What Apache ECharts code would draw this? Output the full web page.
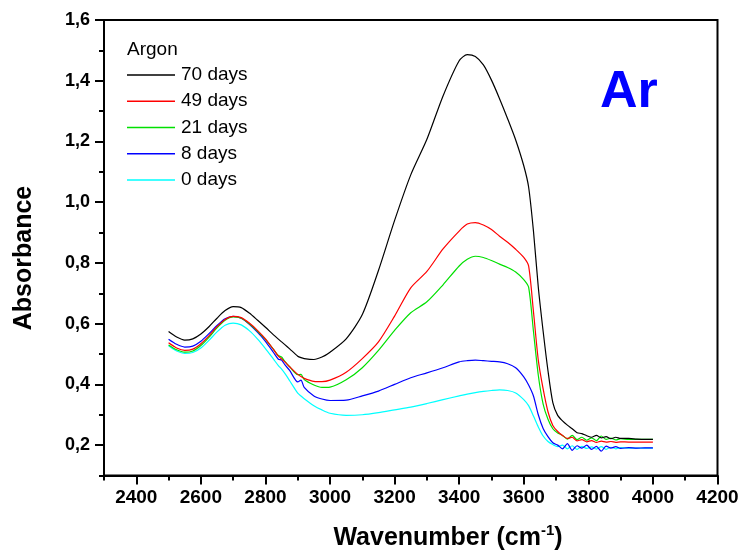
<!DOCTYPE html>
<html>
<head>
<meta charset="utf-8">
<script src="https://cdn.jsdelivr.net/npm/echarts@6/dist/echarts.min.js"></script>
<style>html,body{margin:0;padding:0;background:#fff}#c{width:745px;height:554px}</style>
</head>
<body>
<div id="c"></div>
<script>
const wavenumbers = [2500,2525,2550,2575,2600,2625,2650,2675,2700,2725,2750,2775,2800,2825,2840,2850,2860,2875,2900,2910,2920,2950,2975,3000,3050,3100,3150,3200,3250,3300,3350,3400,3425,3450,3475,3500,3525,3550,3575,3600,3615,3630,3645,3660,3675,3690,3705,3720,3735,3750,3765,3780,3795,3810,3825,3840,3855,3870,3885,3900,3925,3950,3975,4000];
const days70 = [0.574,0.556,0.546,0.550,0.566,0.590,0.618,0.643,0.656,0.653,0.635,0.612,0.588,0.563,0.549,0.540,0.531,0.517,0.493,0.488,0.485,0.482,0.490,0.506,0.550,0.630,0.775,0.940,1.090,1.207,1.350,1.466,1.486,1.480,1.452,1.402,1.341,1.275,1.205,1.120,1.050,0.905,0.720,0.575,0.445,0.340,0.298,0.280,0.266,0.254,0.241,0.238,0.231,0.226,0.232,0.224,0.228,0.221,0.226,0.222,0.222,0.220,0.219,0.219];
const days49 = [0.537,0.520,0.512,0.516,0.534,0.560,0.590,0.614,0.624,0.620,0.602,0.578,0.550,0.515,0.493,0.484,0.474,0.458,0.433,0.426,0.420,0.410,0.409,0.414,0.440,0.485,0.540,0.625,0.718,0.772,0.846,0.905,0.928,0.933,0.925,0.910,0.888,0.868,0.845,0.818,0.790,0.640,0.480,0.385,0.310,0.265,0.245,0.232,0.222,0.226,0.214,0.218,0.211,0.215,0.209,0.213,0.210,0.212,0.209,0.211,0.210,0.210,0.210,0.210];
const days21 = [0.530,0.514,0.506,0.510,0.528,0.555,0.586,0.611,0.622,0.618,0.600,0.576,0.548,0.515,0.495,0.490,0.476,0.458,0.432,0.433,0.416,0.398,0.390,0.391,0.415,0.455,0.512,0.578,0.636,0.672,0.728,0.790,0.812,0.822,0.818,0.808,0.796,0.785,0.770,0.745,0.720,0.575,0.430,0.335,0.285,0.254,0.240,0.232,0.220,0.232,0.218,0.226,0.216,0.224,0.215,0.230,0.219,0.223,0.217,0.221,0.219,0.219,0.219,0.219];
const days8 = [0.549,0.532,0.523,0.526,0.542,0.567,0.594,0.616,0.624,0.618,0.598,0.572,0.542,0.505,0.483,0.480,0.465,0.446,0.408,0.414,0.390,0.362,0.352,0.347,0.348,0.362,0.378,0.400,0.422,0.438,0.455,0.474,0.478,0.480,0.478,0.476,0.474,0.468,0.455,0.425,0.398,0.362,0.300,0.255,0.228,0.208,0.200,0.188,0.205,0.183,0.198,0.190,0.200,0.186,0.196,0.180,0.197,0.190,0.195,0.189,0.192,0.190,0.191,0.191];
const days0 = [0.527,0.510,0.502,0.505,0.520,0.545,0.573,0.595,0.602,0.596,0.577,0.550,0.518,0.483,0.462,0.450,0.436,0.412,0.371,0.362,0.353,0.330,0.316,0.305,0.298,0.300,0.307,0.316,0.325,0.337,0.350,0.362,0.368,0.373,0.377,0.380,0.382,0.380,0.372,0.350,0.330,0.296,0.260,0.230,0.212,0.202,0.195,0.200,0.188,0.198,0.186,0.196,0.189,0.194,0.187,0.195,0.186,0.193,0.188,0.192,0.190,0.190,0.190,0.190];
const seriesNames = ['70 days','49 days','21 days','8 days','0 days'];
const seriesColors = ['#000000','#ff0000','#00e000','#0000ff','#00ffff'];
const xMajorTicks = [2400,2600,2800,3000,3200,3400,3600,3800,4000,4200];
const xMinorTicks = [2300,2500,2700,2900,3100,3300,3500,3700,3900,4100];
const yMajorTicks = [0.2,0.4,0.6,0.8,1.0,1.2,1.4,1.6];
const yMinorTicks = [0.1,0.3,0.5,0.7,0.9,1.1,1.3,1.5];
const legendTitle = 'Argon';
const panelLabel = 'Ar';

const allValues = [days70, days49, days21, days8, days0];
const chart = echarts.init(document.getElementById('c'), null, {renderer: 'canvas'});
const FONT = 'Liberation Sans, Arial, sans-serif';
const grid = {left: 104, right: 27.5, top: 20, bottom: 78.5, show: true, borderColor: '#000', borderWidth: 2, backgroundColor: 'transparent'};
const axisLineStyle = {show: true, lineStyle: {color: '#000', width: 2}};
const xBase = {type: 'value', min: 2300, max: 4200, splitLine: {show: false}, axisLine: axisLineStyle, position: 'bottom'};
const yBase = {type: 'value', min: 0.1, max: 1.6, splitLine: {show: false}, axisLine: axisLineStyle, position: 'left'};
chart.setOption({
  animation: false,
  backgroundColor: '#fff',
  grid: grid,
  xAxis: [
    Object.assign({}, xBase, {
      axisTick: {show: true, length: 9, lineStyle: {color: '#000', width: 2}, customValues: xMajorTicks},
      axisLabel: {show: true, customValues: xMajorTicks, margin: 13, fontFamily: FONT, fontWeight: 'bold', fontSize: 19, color: '#000',
        formatter: v => String(Math.round(v))}
    }),
    Object.assign({}, xBase, {
      axisTick: {show: true, length: 5, lineStyle: {color: '#000', width: 2}, customValues: xMinorTicks},
      axisLabel: {show: false}
    })
  ],
  yAxis: [
    Object.assign({}, yBase, {
      axisTick: {show: true, length: 9, lineStyle: {color: '#000', width: 2}, customValues: yMajorTicks},
      axisLabel: {show: true, customValues: yMajorTicks, margin: 14, fontFamily: FONT, fontWeight: 'bold', fontSize: 18, color: '#000',
        formatter: v => Number(v).toFixed(1).replace('.', ',')}
    }),
    Object.assign({}, yBase, {
      axisTick: {show: true, length: 5, lineStyle: {color: '#000', width: 2}, customValues: yMinorTicks},
      axisLabel: {show: false}
    })
  ],
  legend: {
    orient: 'vertical', left: 127, top: 65.5, padding: 0,
    icon: 'rect', itemWidth: 48, itemHeight: 1.5, itemGap: 7.25,
    data: seriesNames,
    textStyle: {fontFamily: FONT, fontSize: 19, color: '#000', lineHeight: 19, padding: [0,0,0,1]}
  },
  graphic: [
    {type: 'text', left: 127, top: 40, style: {text: legendTitle, font: '19px ' + FONT, fill: '#000'}},
    {type: 'text', x: 600, y: 93, style: {text: panelLabel, font: 'bold 52px ' + FONT, fill: '#0000ff', textAlign: 'left', textVerticalAlign: 'middle'}},
    {type: 'text', x: 24, y: 258, rotation: Math.PI / 2, style: {text: 'Absorbance', font: 'bold 25px ' + FONT, fill: '#000', textAlign: 'center', textVerticalAlign: 'middle'}},
    {type: 'text', x: 448, y: 538, style: {
      text: '{a|Wavenumber (cm}{s|-1}{a|)}', textAlign: 'center', textVerticalAlign: 'middle',
      rich: {
        a: {font: 'bold 25px ' + FONT, fill: '#000', lineHeight: 30},
        s: {font: 'bold 15px ' + FONT, fill: '#000', lineHeight: 30, verticalAlign: 'top'}
      }
    }}
  ],
  series: allValues.map((vals, i) => ({
    name: seriesNames[i],
    type: 'line',
    xAxisIndex: 0, yAxisIndex: 0,
    data: wavenumbers.map((w, k) => [w, vals[k]]),
    symbol: 'none',
    smooth: 0.25,
    lineStyle: {color: seriesColors[i], width: 1.2},
    itemStyle: {color: seriesColors[i]},
    z: 10 - i
  }))
});
</script>
</body>
</html>
